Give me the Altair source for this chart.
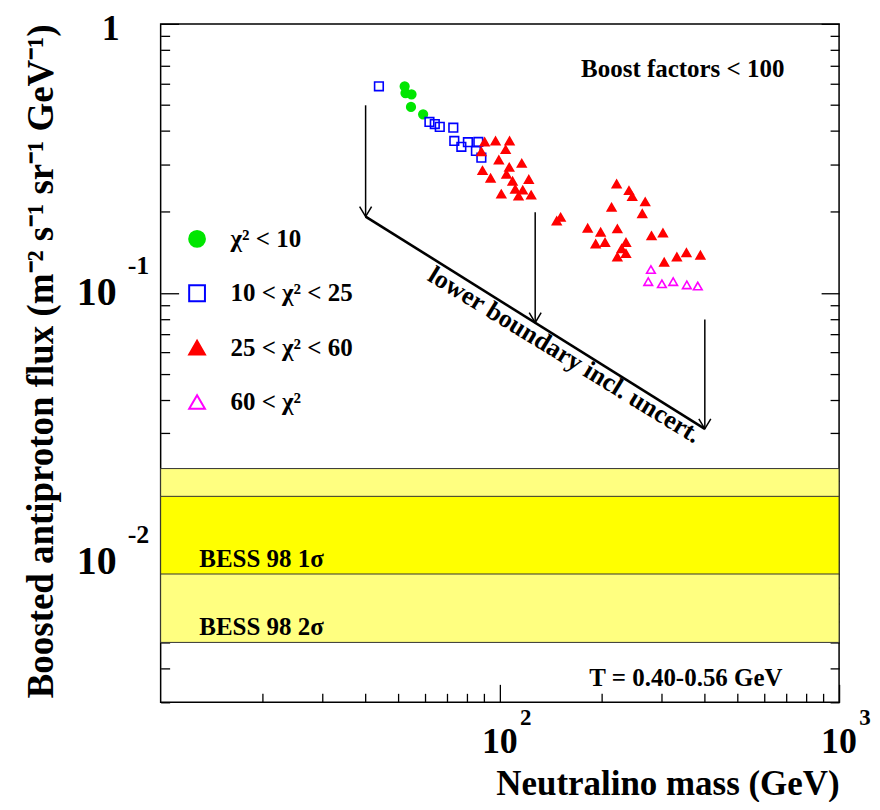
import altair as alt
import pandas as pd

FONT = "Liberation Serif"

# ---------------- data ----------------
categories = ["χ² < 10", "10 < χ² < 25", "25 < χ² < 60", "60 < χ²"]
marker_shapes = ["circle", "square", "triangle-up", "triangle-up"]
marker_strokes = ["#00e600", "#0000ff", "#ff0000", "#ff00ff"]
marker_fills = ["#00e600", "transparent", "#ff0000", "transparent"]

green_mass = [52.4, 52.7, 54.9, 54.7, 59.4]
green_flux = [0.586, 0.553, 0.547, 0.491, 0.461]

blue_mass = [44.0, 62.0, 64.3, 66.5, 72.9, 73.4, 77.0, 80.5, 86.4, 85.0, 88.2]
blue_flux = [0.586, 0.432, 0.424, 0.414, 0.411, 0.367, 0.349, 0.363, 0.364, 0.337, 0.318]

red_mass = [90.2, 97.1, 106.8, 104.0, 88.2, 99.3, 116.0, 106.6, 88.9, 104.6, 93.9, 109.0,
            121.7, 111.0, 116.8, 101.0, 113.5, 123.7,
            220.9, 240.2, 245.6, 268.2, 213.5, 262.9, 151.1, 147.1, 181.5, 198.2, 222.0,
            280.0, 302.5, 191.6, 204.2, 235.4, 228.5, 235.4, 222.0, 305.1, 332.5, 354.8, 390.1]
red_flux = [0.364, 0.367, 0.367, 0.341, 0.335, 0.312, 0.303, 0.293, 0.285, 0.276, 0.267, 0.260,
            0.264, 0.243, 0.241, 0.233, 0.229, 0.231,
            0.254, 0.240, 0.228, 0.218, 0.208, 0.197, 0.191, 0.185, 0.174, 0.168, 0.173,
            0.163, 0.167, 0.152, 0.154, 0.154, 0.146, 0.140, 0.136, 0.130, 0.136, 0.141, 0.138]

magenta_mass = [278.8, 273.8, 300.4, 324.3, 355.8, 383.3]
magenta_flux = [0.122, 0.110, 0.108, 0.110, 0.107, 0.106]

# BESS 98 bands (2 sigma, then 1 sigma)
band_low = [0.00501, 0.00900]
band_high = [0.0222, 0.0175]
band_colors = ["#ffff80", "#ffff00"]
band_xrange = [10, 1000]

# lower boundary line and arrows
boundary_mass = [40.2, 402.0]
boundary_flux = [0.192, 0.0312]
arrow_mass = [40.2, 127.1, 402.0]
arrow_top = [0.498, 0.1995, 0.0796]
arrow_tip = [0.192, 0.0774, 0.0312]

# annotations
ann_text = ["Boost factors < 100", "T = 0.40-0.56 GeV", "BESS 98 1σ", "BESS 98 2σ"]
ann_mass = [173.6, 183.6, 13.0, 13.0]
ann_flux = [0.634, 0.00345, 0.00958, 0.00535]
boundary_label = "lower boundary incl. uncert."
boundary_label_mass = [155.0]
boundary_label_flux = [0.0587]

# ticks and labels
x_major = [100, 1000]
x_minor = [20, 30, 40, 50, 60, 70, 80, 90, 200, 300, 400, 500, 600, 700, 800, 900]
y_major = [1, 0.1, 0.01]
y_minor = [0.9, 0.8, 0.7, 0.6, 0.5, 0.4, 0.3, 0.2,
           0.09, 0.08, 0.07, 0.06, 0.05, 0.04, 0.03, 0.02,
           0.009, 0.008, 0.007, 0.006, 0.005, 0.004, 0.003]
ylab_vals = [1, 0.1, 0.01]
ylab_base = ["1", "10", "10"]
ylab_exp = ["", "-1", "-2"]
xlab_vals = [100, 1000]
xlab_base = ["10", "10"]
xlab_exp = ["2", "3"]

x_title = "Neutralino mass (GeV)"
y_title = "Boosted antiproton flux (m⁻² s⁻¹ sr⁻¹ GeV⁻¹)"

# ---------------- frames ----------------
pts_df = pd.concat([
    pd.DataFrame({"mass": green_mass, "flux": green_flux, "cat": categories[0]}),
    pd.DataFrame({"mass": blue_mass, "flux": blue_flux, "cat": categories[1]}),
    pd.DataFrame({"mass": red_mass, "flux": red_flux, "cat": categories[2]}),
    pd.DataFrame({"mass": magenta_mass, "flux": magenta_flux, "cat": categories[3]}),
], ignore_index=True)

band_df = pd.DataFrame({"lo": band_low, "hi": band_high, "color": band_colors,
                        "x0": band_xrange[0], "x1": band_xrange[1]})
line_df = pd.DataFrame({"mass": boundary_mass, "flux": boundary_flux})
arrow_df = pd.DataFrame({"mass": arrow_mass, "top": arrow_top, "tip": arrow_tip})
ann_df = pd.DataFrame({"mass": ann_mass, "flux": ann_flux, "t": ann_text})
blab_df = pd.DataFrame({"mass": boundary_label_mass, "flux": boundary_label_flux,
                        "t": [boundary_label]})
ylab_df = pd.DataFrame({"v": ylab_vals, "b": ylab_base, "e": ylab_exp})
xlab_df = pd.DataFrame({"v": xlab_vals, "b": xlab_base, "e": xlab_exp})

W, H = 680, 680
xscale = alt.Scale(type="log", domain=[10, 1000], nice=False)
yscale = alt.Scale(type="log", domain=[0.003, 1], nice=False)


def tick_axis(orient, values, size, **extra):
    opts = dict(orient=orient, values=values, tickSize=size, offset=-size,
                domain=False, labels=False, grid=False, ticks=True,
                tickColor="black", tickWidth=1.3)
    if "title" not in extra:
        opts["title"] = None
    opts.update(extra)
    return alt.Axis(**opts)


x_major_axis = tick_axis(
    "bottom", x_major, 18, title=x_title, titleFont=FONT, titleFontSize=35,
    titleFontWeight="bold", titleColor="black", titleX=W, titleY=110,
    titleAlign="right", titleBaseline="alphabetic", titleAngle=0)
y_major_axis = tick_axis(
    "left", y_major, 18, title=y_title, titleFont=FONT, titleFontSize=37,
    titleFontWeight="bold", titleColor="black", titleX=-137, titleY=0,
    titleAlign="right", titleBaseline="middle", titleAngle=270)

legend = alt.Legend(title=None, orient="none", legendX=24, legendY=203,
                    labelFont=FONT, labelFontSize=25, labelFontWeight="bold",
                    labelColor="black", symbolSize=250, symbolStrokeWidth=2,
                    rowPadding=28.5, labelOffset=21, padding=0)

bands = alt.Chart(band_df).mark_rect(stroke="#333333", strokeWidth=1).encode(
    x=alt.X("x0:Q", scale=xscale, axis=x_major_axis),
    x2="x1:Q",
    y=alt.Y("lo:Q", scale=yscale, axis=y_major_axis),
    y2="hi:Q",
    fill=alt.Fill("color:N", scale=None),
)

points = alt.Chart(pts_df).mark_point(size=75, strokeWidth=1.6, opacity=1).encode(
    x=alt.X("mass:Q", scale=xscale, axis=tick_axis("bottom", x_minor, 9)),
    y=alt.Y("flux:Q", scale=yscale, axis=tick_axis("left", y_minor, 9)),
    shape=alt.Shape("cat:N", scale=alt.Scale(domain=categories, range=marker_shapes), legend=legend),
    stroke=alt.Stroke("cat:N", scale=alt.Scale(domain=categories, range=marker_strokes), legend=legend),
    fill=alt.Fill("cat:N", scale=alt.Scale(domain=categories, range=marker_fills), legend=legend),
)

bline = alt.Chart(line_df).mark_line(color="black", strokeWidth=2.6).encode(
    x=alt.X("mass:Q", scale=xscale, axis=None),
    y=alt.Y("flux:Q", scale=yscale, axis=tick_axis("right", y_major, 18)),
)

shafts = alt.Chart(arrow_df).mark_rule(color="black", strokeWidth=1.5).encode(
    x=alt.X("mass:Q", scale=xscale, axis=None),
    y=alt.Y("top:Q", scale=yscale, axis=tick_axis("right", y_minor, 9)),
    y2="tip:Q",
)

heads = alt.Chart(arrow_df).mark_point(
    shape="M-0.6,-1L0,0L0.6,-1", size=400, filled=False, stroke="black",
    strokeWidth=1.5, opacity=1).encode(
    x=alt.X("mass:Q", scale=xscale, axis=None),
    y=alt.Y("tip:Q", scale=yscale, axis=None),
)

blabel = alt.Chart(blab_df).mark_text(
    font=FONT, fontSize=26, fontWeight="bold", color="black", angle=31.5,
    align="center", baseline="middle").encode(
    x=alt.X("mass:Q", scale=xscale, axis=None),
    y=alt.Y("flux:Q", scale=yscale, axis=None),
    text="t:N",
)

annots = alt.Chart(ann_df).mark_text(
    font=FONT, fontSize=25, fontWeight="bold", color="black",
    align="left", baseline="alphabetic").encode(
    x=alt.X("mass:Q", scale=xscale, axis=None),
    y=alt.Y("flux:Q", scale=yscale, axis=None),
    text="t:N",
)

# tick labels
ylab_one = alt.Chart(ylab_df.iloc[:1]).mark_text(
    font=FONT, fontSize=36, fontWeight="bold", color="black",
    align="center", baseline="alphabetic", dy=16).encode(
    y=alt.Y("v:Q", scale=yscale, axis=None), x=alt.value(-50), text="b:N")
ylab_ten = alt.Chart(ylab_df.iloc[1:]).mark_text(
    font=FONT, fontSize=40, fontWeight="bold", color="black",
    align="center", baseline="middle").encode(
    y=alt.Y("v:Q", scale=yscale, axis=None), x=alt.value(-64), text="b:N")
ylab_exp_l = alt.Chart(ylab_df.iloc[1:]).mark_text(
    font=FONT, fontSize=26, fontWeight="bold", color="black",
    align="left", baseline="middle", dy=-27).encode(
    y=alt.Y("v:Q", scale=yscale, axis=None), x=alt.value(-33), text="e:N")

xlab_ten = alt.Chart(xlab_df).mark_text(
    font=FONT, fontSize=36, fontWeight="bold", color="black",
    align="center", baseline="middle").encode(
    x=alt.X("v:Q", scale=xscale, axis=None), y=alt.value(H + 40), text="b:N")
xlab_exp_l = alt.Chart(xlab_df).mark_text(
    font=FONT, fontSize=23, fontWeight="bold", color="black",
    align="center", baseline="middle", dx=26).encode(
    x=alt.X("v:Q", scale=xscale, axis=None), y=alt.value(H + 16), text="e:N")

chart = alt.layer(
    bands, bline, shafts, heads, blabel, points, annots,
    ylab_one, ylab_ten, ylab_exp_l, xlab_ten, xlab_exp_l,
).resolve_axis(x="independent", y="independent").properties(
    width=W, height=H,
    autosize=alt.AutoSizeParams(type="none"),
    padding={"left": 153, "top": 15, "right": 33, "bottom": 99},
    background="white",
).configure_view(stroke="black", strokeWidth=1.5)

chart.save("out.html", embed_options={"renderer": "svg", "actions": False})
